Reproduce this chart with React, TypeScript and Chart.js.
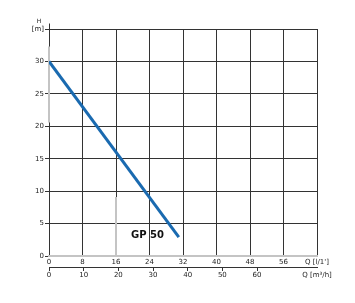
import React, { useEffect, useRef } from "react";
import { Chart, registerables } from "chart.js";

Chart.register(...registerables);

// Data
const flowLpm: number[] = [0, 31];
const headM: number[] = [30, 2.9];
const xTicksLpm: number[] = [0, 8, 16, 24, 32, 40, 48, 56, 64];
const xTicksM3h: number[] = [0, 10, 20, 30, 40, 50, 60];
const yTicks: number[] = [0, 5, 10, 15, 20, 25, 30, 35];
const m3hAxisMax = 77.3;
const curveLabel = "GP 50";
const xUnitLabel = "Q [l/1']";
const x2UnitLabel = "Q [m³/h]";
const yUnitLabel = "[m]";
const yTitle = "H";

const FONT = "'DejaVu Sans', sans-serif";
const DARK = "#333333";
const LIGHT = "#c4c4c4";

const decorPlugin = {
  id: "decor",
  beforeDatasetsDraw(chart: any) {
    const { ctx, chartArea } = chart;
    const x = chart.scales.x;
    const y = chart.scales.y;
    ctx.save();
    // y axis extension above top
    ctx.strokeStyle = DARK;
    ctx.lineWidth = 1;
    ctx.beginPath();
    ctx.moveTo(chartArea.left + 0.5, chartArea.top - 5.5);
    ctx.lineTo(chartArea.left + 0.5, chartArea.top);
    ctx.stroke();
    // light grey segments (scan artefacts)
    ctx.strokeStyle = LIGHT;
    ctx.lineWidth = 2;
    ctx.beginPath();
    ctx.moveTo(x.getPixelForValue(0), y.getPixelForValue(32.3));
    ctx.lineTo(x.getPixelForValue(0), y.getPixelForValue(20.6));
    ctx.moveTo(x.getPixelForValue(16), y.getPixelForValue(9.1));
    ctx.lineTo(x.getPixelForValue(16), y.getPixelForValue(0));
    ctx.stroke();
    ctx.restore();
  },
  afterDatasetsDraw(chart: any) {
    const { ctx, chartArea } = chart;
    const x = chart.scales.x;
    const y = chart.scales.y;
    ctx.save();
    ctx.fillStyle = "#222";
    ctx.textAlign = "center";
    ctx.textBaseline = "middle";
    ctx.font = `6px ${FONT}`;
    ctx.fillText(yTitle, chartArea.left - 10, chartArea.top - 7.5);
    ctx.font = `bold 10px ${FONT}`;
    ctx.fillStyle = "#111";
    ctx.fillText(curveLabel, x.getPixelForValue(23.5), y.getPixelForValue(3.1));
    ctx.restore();
  },
};

export default function App() {
  const ref = useRef<HTMLCanvasElement | null>(null);
  useEffect(() => {
    if (!ref.current) return;
    const chart = new Chart(ref.current, {
      type: "scatter",
      data: {
        datasets: [
          {
            data: flowLpm.map((q, i) => ({ x: q, y: headM[i] })),
            showLine: true,
            borderColor: "#1a6ab0",
            borderWidth: 3,
            pointRadius: 0,
            fill: false,
            xAxisID: "x",
            yAxisID: "y",
          },
        ],
      },
      options: {
        animation: false,
        responsive: true,
        maintainAspectRatio: false,
        layout: { padding: { left: 0, top: 29, right: 38, bottom: 16 } },
        plugins: { legend: { display: false }, tooltip: { enabled: false } },
        scales: {
          y: {
            type: "linear",
            position: "left",
            min: 0,
            max: 35,
            afterBuildTicks: (s: any) => {
              s.ticks = yTicks.map((v) => ({ value: v }));
            },
            afterFit: (s: any) => {
              s.width = 49;
            },
            ticks: {
              font: { family: FONT, size: 7 },
              color: "#222",
              padding: 1,
              callback: (v: any) => (v === 35 ? yUnitLabel : String(v)),
            },
            grid: {
              color: (c: any) => (c.tick && c.tick.value === 0 ? "rgba(0,0,0,0)" : DARK),
              tickColor: DARK,
              lineWidth: 1,
              tickLength: 4,
              drawTicks: true,
            },
            border: { display: true, color: DARK, width: 1 },
          },
          x: {
            type: "linear",
            position: "bottom",
            weight: 0,
            min: 0,
            max: 64,
            afterBuildTicks: (s: any) => {
              s.ticks = xTicksLpm.map((v) => ({ value: v }));
            },
            afterFit: (s: any) => {
              s.height = 11;
            },
            ticks: {
              font: { family: FONT, size: 7 },
              color: "#222",
              padding: 2,
              maxRotation: 0,
              autoSkip: false,
              callback: (v: any) => (v === 64 ? xUnitLabel : String(v)),
            },
            grid: { color: DARK, lineWidth: 1, drawTicks: false },
            border: { display: true, color: LIGHT, width: 2 },
          },
          x2: {
            type: "linear",
            position: "bottom",
            weight: 1,
            min: 0,
            max: m3hAxisMax,
            afterBuildTicks: (s: any) => {
              s.ticks = [...xTicksM3h, m3hAxisMax].map((v) => ({ value: v }));
            },
            afterFit: (s: any) => {
              s.height = 20;
            },
            ticks: {
              font: { family: FONT, size: 7 },
              color: "#222",
              padding: 0,
              maxRotation: 0,
              autoSkip: false,
              callback: (v: any) => (v === m3hAxisMax ? x2UnitLabel : String(v)),
            },
            grid: {
              drawOnChartArea: false,
              drawTicks: true,
              tickLength: 4,
              color: (c: any) => (c.tick && c.tick.value > 60 ? "rgba(0,0,0,0)" : DARK),
            },
            border: { display: true, color: DARK, width: 1 },
          },
        },
      },
      plugins: [decorPlugin],
    });
    return () => chart.destroy();
  }, []);
  return (
    <div style={{ position: "absolute", left: 0, top: 0, width: 355, height: 303, background: "#fff" }}>
      <canvas ref={ref} />
    </div>
  );
}
